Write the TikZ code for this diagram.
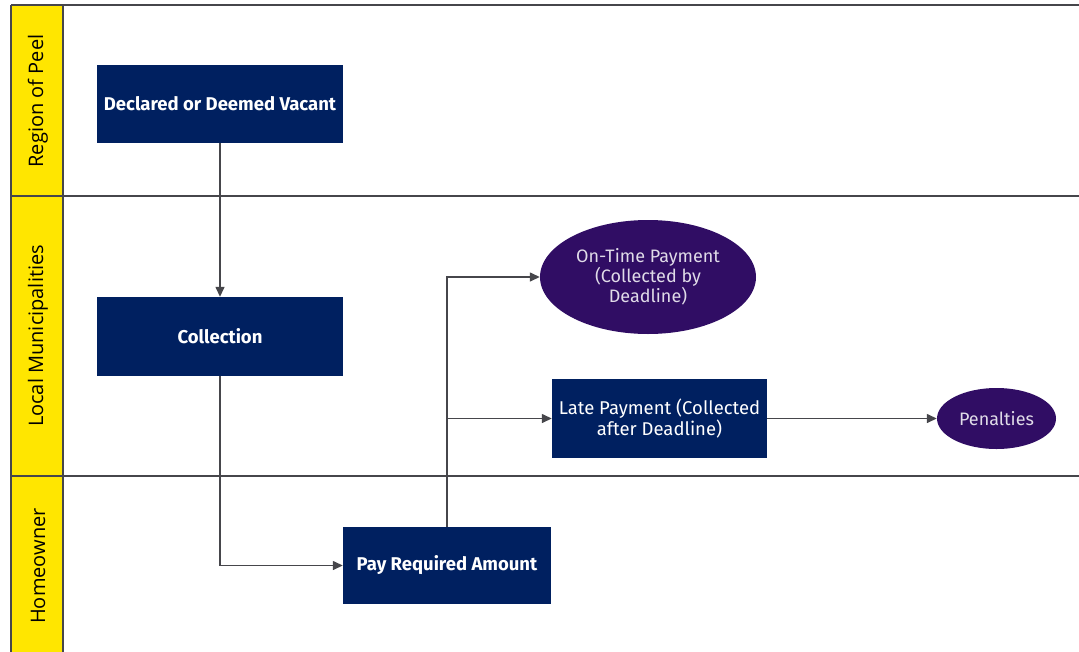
\documentclass[tikz,border=0pt]{standalone}
\usepackage{fontspec}
\setmainfont{Fira Sans}
\newfontfamily\lanefont{Open Sans}
\usetikzlibrary{shapes.geometric,arrows.meta}
\definecolor{navy}{RGB}{0,32,96}
\definecolor{purp}{RGB}{48,13,100}
\definecolor{eyyellow}{RGB}{255,230,0}
\definecolor{laneline}{RGB}{70,70,75}
\begin{document}
\begin{tikzpicture}[x=1pt,y=-1pt,
  box/.style={draw=none,fill=navy,text=white,inner sep=0pt,align=center,font=\fontsize{18.5}{19}\selectfont},
  oval/.style={ellipse,fill=purp,text=white!85!purp,inner sep=0pt,align=center,font=\fontsize{18}{19}\selectfont},
  flow/.style={draw=laneline,line width=1.4pt,-{Triangle[length=10pt,width=9pt]}},
  lanelabel/.style={rotate=90,font=\lanefont\fontsize{20}{22}\selectfont,text=black},
  border/.style={draw=laneline,line width=1.6pt}]
\useasboundingbox (0,0) rectangle (1079,651);
% lanes
\fill[eyyellow] (11,5) rectangle (63,660);
\draw[border] (11,5) -- (1079,5);
\draw[border] (11,196) -- (1079,196);
\draw[border] (11,476) -- (1079,476);
\draw[border] (11,5) -- (11,660);
\draw[border] (63,5) -- (63,660);
\node[lanelabel] (l1) at (38,101) {Region of Peel};
\node[lanelabel] (l2) at (38,336) {Local Municipalities};
\node[lanelabel] (l3) at (38,566) {Homeowner};
% nodes
\node[box,minimum width=246pt,minimum height=78pt] (dec) at (220,104) {\bfseries Declared or Deemed Vacant};
\node[box,minimum width=246pt,minimum height=79pt] (col) at (220,336.5) {\bfseries Collection};
\node[box,minimum width=208pt,minimum height=77pt] (pay) at (447,565.5) {\bfseries Pay Required Amount};
\node[oval,minimum width=216pt,minimum height=114pt] (ont) at (648,277) {On-Time Payment\\(Collected by\\Deadline)};
\node[box,minimum width=215pt,minimum height=79pt] (late) at (659.5,418.5) {Late Payment (Collected\\after Deadline)};
\node[oval,minimum width=119pt,minimum height=61pt] (pen) at (996.5,418.5) {Penalties};
\coordinate (br) at (447,418.5);
% connectors
\draw[flow] (dec.south) -- (col.north);
\draw[flow] (col.south) |- (pay.west);
\draw[flow] (pay.north) |- (ont.west);
\draw[flow] (br) -- (late.west);
\draw[flow] (late.east) -- (pen.west);
\end{tikzpicture}
\end{document}
